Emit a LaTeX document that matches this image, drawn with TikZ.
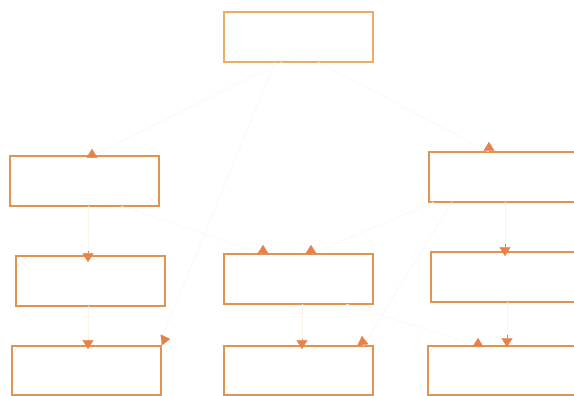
\documentclass[tikz,border=0pt]{standalone}
\usetikzlibrary{arrows.meta,calc}
\definecolor{boxc}{HTML}{DF9452}
\definecolor{topc}{HTML}{E8AE66}
\definecolor{tipc}{HTML}{E8804A}
\definecolor{linec}{HTML}{FCF5EC}
\tikzset{
  box/.style={draw=boxc, line width=1.2pt, minimum width=149pt, minimum height=50pt, inner sep=0pt, outer sep=0pt},
  conn/.style={draw=linec, line width=0.6pt},
  headonly/.style={draw=tipc, line width=0.3pt, -{Triangle[round, width=11pt, length=9pt, color=tipc]}}
}
\begin{document}
\begin{tikzpicture}[x=1pt,y=-1pt]
\useasboundingbox (0,0) rectangle (574,396);
\clip (0,0) rectangle (574,396);
\node[box, draw=topc] (T)  at (298.5,37) {};
\node[box] (L1) at (84.5,181) {};
\node[box] (R1) at (503.5,177) {};
\node[box] (L2) at (90.5,281) {};
\node[box] (M2) at (298.5,279) {};
\node[box] (R2) at (505.5,277) {};
\node[box, minimum height=49pt] (L3) at (86.5,370.5) {};
\node[box, minimum height=49pt] (M3) at (298.5,370.5) {};
\node[box, minimum height=49pt] (R3) at (502.5,370.5) {};
% end points on the boxes
\coordinate (t1) at (282,0 |- T.south);
\coordinate (t2) at (318,0 |- T.south);
\coordinate (t3) at (275,0 |- T.south);
\coordinate (l1n) at (92,0 |- L1.north);
\coordinate (l1s) at (121,0 |- L1.south);
\coordinate (l1c) at (88,0 |- L1.south);
\coordinate (r1n) at (489,0 |- R1.north);
\coordinate (r1s) at (434,0 |- R1.south);
\coordinate (r1d) at (452,0 |- R1.south);
\coordinate (r1c) at (505,0 |- R1.south);
\coordinate (l2n) at (88,0 |- L2.north);
\coordinate (l2s) at (88,0 |- L2.south);
\coordinate (m2a) at (263,0 |- M2.north);
\coordinate (m2b) at (311,0 |- M2.north);
\coordinate (m2s) at (346,0 |- M2.south);
\coordinate (m2c) at (302,0 |- M2.south);
\coordinate (r2n) at (505,0 |- R2.north);
\coordinate (r2s) at (507,0 |- R2.south);
\coordinate (l3n) at (88,0 |- L3.north);
\coordinate (l3e) at ($(L3.north east)+(0,-6)$);
\coordinate (m3a) at (302,0 |- M3.north);
\coordinate (m3b) at (363,0 |- M3.north);
\coordinate (r3a) at (478,0 |- R3.north);
\coordinate (r3b) at (507,0 |- R3.north);
% faint connector lines
\draw[conn] (t1) -- (l1n);
\draw[conn] (t2) -- (r1n);
\draw[conn] (t3) -- (l3e);
\draw[conn] (l1c) -- (l2n);
\draw[conn] (l2s) -- (l3n);
\draw[conn] (l1s) -- (m2a);
\draw[conn] (r1s) -- (m2b);
\draw[conn] (r1c) -- (r2n);
\draw[conn] (r1d) -- (m3b);
\draw[conn] (m2c) -- (m3a);
\draw[conn] (m2s) -- (r3a);
\draw[conn] (r2s) -- (r3b);
% arrowheads
\draw[headonly] (l1n) -- ++(0,-7);
\draw[headonly] (r1n) -- ++(0,-10);
\draw[headonly] (m2a) -- ++(0,-9);
\draw[headonly] (m2b) -- ++(0,-9);
\draw[headonly] (r3a) -- ++(0,-8);
\draw[headonly] (m3b) -- ++(-1,-10);
\draw[headonly] (l3e) -- ++(9,-1);
\draw[headonly] (l2n) ++(0,-5) -- ++(0,11);
\draw[headonly] (l3n) ++(0,-6) -- ++(0,9);
\draw[headonly] (r2n) ++(0,-8) -- ++(0,12);
\draw[headonly] (m3a) ++(0,-7) -- ++(0,10);
\draw[headonly] (r3b) ++(0,-11) -- ++(0,12);
\end{tikzpicture}
\end{document}
